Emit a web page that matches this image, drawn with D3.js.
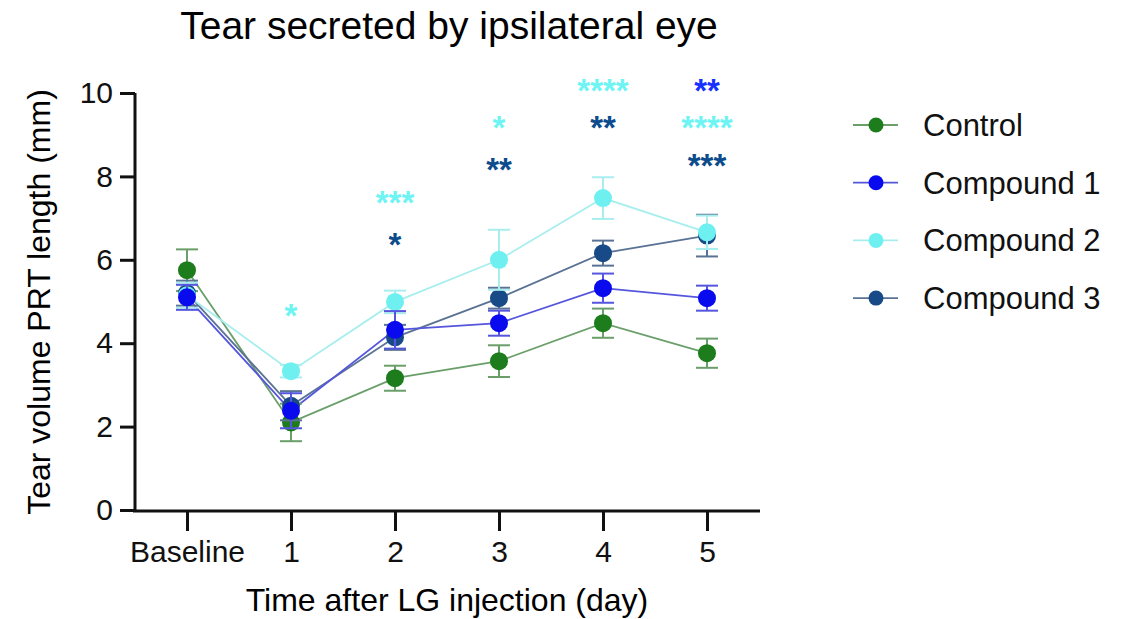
<!DOCTYPE html>
<html>
<head>
<meta charset="utf-8">
<script src="https://cdn.jsdelivr.net/npm/d3@7"></script>
<style>
  body { margin: 0; background: #fff; }
  svg { font-family: "Liberation Sans", Arial, sans-serif; }
</style>
</head>
<body>
<div id="chart"></div>
<script>
// categories and values (mean, SEM)
const days = ['Baseline', '1', '2', '3', '4', '5'];
const seriesNames = ['Control', 'Compound 1', 'Compound 2', 'Compound 3'];
const controlMean = [5.75, 2.1, 3.16, 3.57, 4.48, 3.76];
const controlSem = [0.5, 0.45, 0.3, 0.38, 0.35, 0.35];
const comp1Mean = [5.1, 2.38, 4.32, 4.48, 5.32, 5.08];
const comp1Sem = [0.3, 0.42, 0.45, 0.3, 0.35, 0.3];
const comp2Mean = [5.15, 3.33, 4.99, 6.0, 7.48, 6.66];
const comp2Sem = [0.3, 0.15, 0.27, 0.72, 0.5, 0.4];
const comp3Mean = [5.2, 2.5, 4.14, 5.08, 6.16, 6.58];
const comp3Sem = [0.3, 0.35, 0.3, 0.25, 0.3, 0.5];
// significance stars: day, text, series, height in data units
const starDays = ['1', '2', '2', '3', '3', '4', '4', '5', '5', '5'];
const starText = ['*', '***', '*', '*', '**', '****', '**', '**', '****', '***'];
const starSeries = ['Compound 2', 'Compound 2', 'Compound 3', 'Compound 2', 'Compound 3',
                    'Compound 2', 'Compound 3', 'Compound 1', 'Compound 2', 'Compound 3'];
const starLevel = [4.8, 7.5, 6.5, 9.3, 8.3, 10.2, 9.3, 10.2, 9.3, 8.4];
const yTicks = [0, 2, 4, 6, 8, 10];

const colors = {
  'Control': '#1d7d1d',
  'Compound 1': '#0a0aee',
  'Compound 2': '#6ff0f0',
  'Compound 3': '#174a86'
};
const lineColors = {
  'Control': '#6a9f6a',
  'Compound 1': '#5555dd',
  'Compound 2': '#a8eeee',
  'Compound 3': '#5a7394'
};
const starColors = {
  'Compound 1': '#1530ff',
  'Compound 2': '#6ff4f4',
  'Compound 3': '#0c4c8c'
};

const series = [
  { name: 'Control', mean: controlMean, sem: controlSem },
  { name: 'Compound 1', mean: comp1Mean, sem: comp1Sem },
  { name: 'Compound 2', mean: comp2Mean, sem: comp2Sem },
  { name: 'Compound 3', mean: comp3Mean, sem: comp3Sem }
];
// drawing order so overlaps look like the figure
const drawOrder = ['Control', 'Compound 3', 'Compound 2', 'Compound 1']
  .map(n => series.find(s => s.name === n));

const width = 1134, height = 619;
const svg = d3.select('#chart').append('svg')
  .attr('width', width)
  .attr('height', height);

const x = d3.scalePoint().domain(days).range([135, 759]).padding(0.5);
const y = d3.scaleLinear().domain([0, 10]).range([510, 93]);

// title
svg.append('text')
  .attr('x', 449).attr('y', 39)
  .attr('text-anchor', 'middle')
  .style('font-size', '39px')
  .text('Tear secreted by ipsilateral eye');

// y axis
const yAxis = svg.append('g')
  .attr('transform', 'translate(135,0)')
  .call(d3.axisLeft(y).tickValues(yTicks).tickSize(15).tickPadding(7).tickFormat(d3.format('d')));
// x axis
const xAxis = svg.append('g')
  .attr('transform', 'translate(0,511)')
  .call(d3.axisBottom(x).tickSize(20).tickPadding(10));

[yAxis, xAxis].forEach(g => {
  g.select('.domain').attr('stroke', '#111').attr('stroke-width', 3);
  g.selectAll('.tick line').attr('stroke', '#111').attr('stroke-width', 3);
  g.selectAll('.tick text').attr('fill', '#111').style('font-size', '30px')
    .style('font-family', '"Liberation Sans", Arial, sans-serif');
});
xAxis.select('.domain').attr('d', 'M133,0H760');
yAxis.select('.domain').attr('d', 'M0,510V93');

// axis titles
svg.append('text')
  .attr('x', 447).attr('y', 611)
  .attr('text-anchor', 'middle')
  .style('font-size', '32px')
  .text('Time after LG injection (day)');
svg.append('text')
  .attr('transform', 'translate(50,302) rotate(-90)')
  .attr('text-anchor', 'middle')
  .style('font-size', '32px')
  .text('Tear volume PRT length (mm)');

// lines
const line = d3.line().x((d, i) => x(days[i])).y(d => y(d));
svg.append('g').selectAll('path')
  .data(drawOrder)
  .join('path')
  .attr('d', d => line(d.mean))
  .attr('fill', 'none')
  .attr('stroke', d => lineColors[d.name])
  .attr('stroke-width', 1.8);

// error bars and markers
drawOrder.forEach(s => {
  const g = svg.append('g');
  const pts = s.mean.map((m, i) => ({ day: days[i], m: m, e: s.sem[i] }));
  const eb = g.selectAll('g.eb').data(pts).join('g').attr('class', 'eb')
    .attr('stroke', lineColors[s.name]).attr('stroke-width', 2);
  eb.append('line')
    .attr('x1', d => x(d.day)).attr('x2', d => x(d.day))
    .attr('y1', d => y(d.m - d.e)).attr('y2', d => y(d.m + d.e));
  eb.append('line')
    .attr('x1', d => x(d.day) - 11).attr('x2', d => x(d.day) + 11)
    .attr('y1', d => y(d.m + d.e)).attr('y2', d => y(d.m + d.e));
  eb.append('line')
    .attr('x1', d => x(d.day) - 11).attr('x2', d => x(d.day) + 11)
    .attr('y1', d => y(d.m - d.e)).attr('y2', d => y(d.m - d.e));
  g.selectAll('circle').data(pts).join('circle')
    .attr('cx', d => x(d.day)).attr('cy', d => y(d.m))
    .attr('r', 9)
    .attr('fill', colors[s.name]);
});

// significance stars
svg.append('g').selectAll('text')
  .data(starText.map((t, i) => ({ t: t, day: starDays[i], s: starSeries[i], v: starLevel[i] })))
  .join('text')
  .attr('x', d => x(d.day))
  .attr('y', d => y(d.v) + 17)
  .attr('text-anchor', 'middle')
  .attr('fill', d => starColors[d.s])
  .style('font-size', '33px')
  .style('font-weight', 'bold')
  .text(d => d.t);

// legend
const legend = svg.append('g').selectAll('g')
  .data(seriesNames)
  .join('g')
  .attr('transform', (d, i) => `translate(853,${125 + i * 57.7})`);
legend.append('line')
  .attr('x1', 0).attr('x2', 45)
  .attr('stroke', d => lineColors[d]).attr('stroke-width', 1.8);
legend.append('circle')
  .attr('cx', 23).attr('r', 7.5)
  .attr('fill', d => colors[d]);
legend.append('text')
  .attr('x', 70).attr('y', 11)
  .style('font-size', '31px')
  .attr('fill', '#111')
  .text(d => d);
</script>
</body>
</html>
